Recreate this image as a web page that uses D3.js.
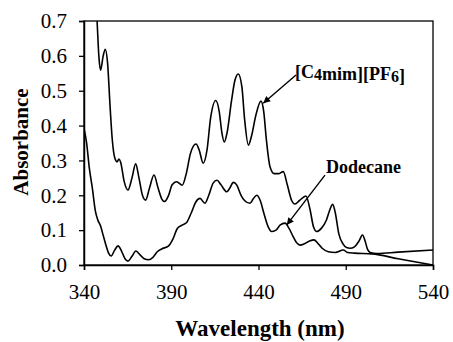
<!DOCTYPE html>
<html>
<head>
<meta charset="utf-8">
<script src="https://cdn.jsdelivr.net/npm/d3@7"></script>
<style>
  body { margin: 0; background: #fff; }
  svg text { font-family: "Liberation Serif", "Times New Roman", serif; fill: #000; }
</style>
</head>
<body>
<div id="chart"></div>
<script>
// spectra: [wavelength (nm), absorbance]
const ionicLiquid = [
  [346, 0.85], [347.5, 0.70], [348.5, 0.60], [349.5, 0.559], [351, 0.60], [352.2, 0.619],
  [353.5, 0.58], [355, 0.45], [356.2, 0.36], [357.5, 0.31], [359, 0.296], [360, 0.304],
  [361, 0.295], [363, 0.24], [365.2, 0.215], [367.5, 0.25], [369.6, 0.29], [371.5, 0.25],
  [373.5, 0.20], [375.3, 0.186], [377.5, 0.22], [380.1, 0.258], [382.5, 0.22], [384.5, 0.19],
  [386.2, 0.182], [388.5, 0.20], [390.5, 0.23], [393.1, 0.239], [396.3, 0.229], [398.5, 0.26],
  [401, 0.32], [404.2, 0.347], [406, 0.33], [408.3, 0.292], [410.5, 0.33], [412.5, 0.42],
  [415.5, 0.472], [417.5, 0.44], [419, 0.38], [420.4, 0.353], [422, 0.38], [424.5, 0.47],
  [426.5, 0.53], [428.4, 0.548], [430.5, 0.51], [432, 0.42], [434.2, 0.344], [436, 0.37],
  [438.5, 0.43], [441.4, 0.47], [443, 0.44], [444.5, 0.36], [446.6, 0.282], [449, 0.262],
  [451.5, 0.262], [454.2, 0.268], [456.5, 0.23], [459, 0.185], [460.9, 0.175], [463.5, 0.185],
  [467.2, 0.198], [469.5, 0.16], [471.5, 0.11], [473.4, 0.096], [476, 0.105], [479, 0.13],
  [481, 0.16], [482.5, 0.174], [484, 0.15], [486, 0.09], [488.5, 0.06], [490.5, 0.05],
  [492.4, 0.048], [495, 0.052], [497.5, 0.068], [499.6, 0.086], [501, 0.07], [502.5, 0.045],
  [504, 0.036], [508, 0.033], [520, 0.037], [540, 0.043]
];

const dodecane = [
  [340, 0.392], [341.5, 0.35], [343, 0.28], [344.8, 0.22], [346.5, 0.155], [348, 0.128],
  [349.5, 0.112], [351, 0.085], [352.5, 0.058], [354, 0.035], [355.6, 0.026], [357.5, 0.042],
  [359.5, 0.055], [361.5, 0.04], [363.5, 0.018], [365.2, 0.011], [367.5, 0.025], [369.7, 0.040],
  [372, 0.03], [374.5, 0.018], [377, 0.015], [379.5, 0.022], [382, 0.038], [384.5, 0.046],
  [388.5, 0.055], [391, 0.075], [393.5, 0.105], [396.5, 0.115], [398.8, 0.122], [401.5, 0.15],
  [404, 0.18], [406.5, 0.191], [409.3, 0.177], [411.5, 0.2], [414, 0.235], [416.2, 0.243],
  [418.5, 0.23], [421.8, 0.21], [423.5, 0.22], [425.6, 0.237], [427.5, 0.23], [430, 0.2],
  [432, 0.185], [435.1, 0.177], [437, 0.19], [439, 0.2], [441, 0.185], [443, 0.15],
  [445.5, 0.11], [447.5, 0.096], [450, 0.1], [452.5, 0.115], [455.2, 0.12], [457.5, 0.105],
  [460, 0.08], [462, 0.063], [463.8, 0.057], [466, 0.06], [469, 0.068], [471.8, 0.072],
  [474, 0.062], [476.5, 0.048], [480, 0.038], [484, 0.036], [488.6, 0.043], [491, 0.036],
  [495, 0.034], [505, 0.032], [520, 0.018], [540, 0.0]
];

const xTicks = [340, 390, 440, 490, 540];
const yTicks = [0, 0.1, 0.2, 0.3, 0.4, 0.5, 0.6, 0.7];

// annotations: label position and arrow [from, to] in data units
const labels = [
  {text: "[C4mim][PF6]", at: [460.9, 0.536], arrow: [[461.5, 0.545], [442.7, 0.464]]},
  {text: "Dodecane", at: [478.7, 0.264], arrow: [[478.1, 0.258], [456.2, 0.115]]}
];

const width = 453, height = 342;
const margin = {top: 21, right: 20, bottom: 77, left: 84};
const w = width - margin.left - margin.right;   // 349
const h = height - margin.top - margin.bottom;  // 244

let svg = d3.select("#chart")
    .append("svg")
    .attr("width", width)
    .attr("height", height);

svg.append("defs").append("clipPath")
    .attr("id", "plotclip")
    .append("rect")
    .attr("width", w)
    .attr("height", h);

let marker = svg.select("defs").append("marker")
    .attr("id", "head")
    .attr("viewBox", "0 0 10 10")
    .attr("refX", 10).attr("refY", 5)
    .attr("markerWidth", 9).attr("markerHeight", 7)
    .attr("markerUnits", "userSpaceOnUse")
    .attr("orient", "auto");
marker.append("path").attr("d", "M0,0 L10,5 L0,10 Z").attr("fill", "#000");

let g = svg.append("g")
    .attr("transform", `translate(${margin.left},${margin.top})`);

let x = d3.scaleLinear().domain([340, 540]).range([0, w]);
let y = d3.scaleLinear().domain([0, 0.7]).range([h, 0]);

// frame
g.append("rect")
    .attr("width", w).attr("height", h)
    .attr("fill", "none").attr("stroke", "#000").attr("stroke-width", 1.3);

let xAxis = g.append("g")
    .attr("transform", `translate(0,${h})`)
    .call(d3.axisBottom(x).tickValues(xTicks).tickSize(5).tickPadding(14).tickFormat(d3.format("d")));

let yAxis = g.append("g")
    .call(d3.axisLeft(y).tickValues(yTicks).tickSize(5).tickPadding(12).tickFormat(d3.format(".1f")));

[xAxis, yAxis].forEach(a => {
    a.attr("font-family", null);
    a.select(".domain").attr("stroke-width", 1.5);
    a.selectAll(".tick line").attr("stroke-width", 1.3);
    a.selectAll(".tick text")
        .style("font-family", "'Liberation Serif', serif")
        .style("font-size", "21px")
        .attr("fill", "#000");
});

let line = d3.line()
    .x(d => x(d[0]))
    .y(d => y(d[1]))
    .curve(d3.curveMonotoneX);

let plot = g.append("g").attr("clip-path", "url(#plotclip)");

[ionicLiquid, dodecane].forEach(s => {
    plot.append("path")
        .datum(s)
        .attr("fill", "none")
        .attr("stroke", "#000")
        .attr("stroke-width", 1.6)
        .attr("d", line);
});

// labels and arrows
labels.forEach(l => {
    g.append("line")
        .attr("x1", x(l.arrow[0][0])).attr("y1", y(l.arrow[0][1]))
        .attr("x2", x(l.arrow[1][0])).attr("y2", y(l.arrow[1][1]))
        .attr("stroke", "#000").attr("stroke-width", 1.4)
        .attr("marker-end", "url(#head)");

    let t = g.append("text")
        .attr("x", x(l.at[0])).attr("y", y(l.at[1]))
        .style("font-size", "18px").style("font-weight", "bold");
    // digits drawn slightly lowered, like subscripts
    l.text.split(/(\d)/).forEach(part => {
        if (!part) return;
        if (/\d/.test(part)) {
            t.append("tspan").attr("dy", 2).style("font-size", "16px").text(part);
            t.append("tspan").attr("dy", -2).text("");
        } else {
            t.append("tspan").text(part);
        }
    });
});

// axis titles
svg.append("text")
    .attr("x", 260).attr("y", 336)
    .attr("text-anchor", "middle")
    .style("font-size", "23px").style("font-weight", "bold")
    .text("Wavelength (nm)");

svg.append("text")
    .attr("transform", `translate(28,142) rotate(-90)`)
    .attr("text-anchor", "middle")
    .style("font-size", "21px").style("font-weight", "bold")
    .text("Absorbance");
</script>
</body>
</html>
